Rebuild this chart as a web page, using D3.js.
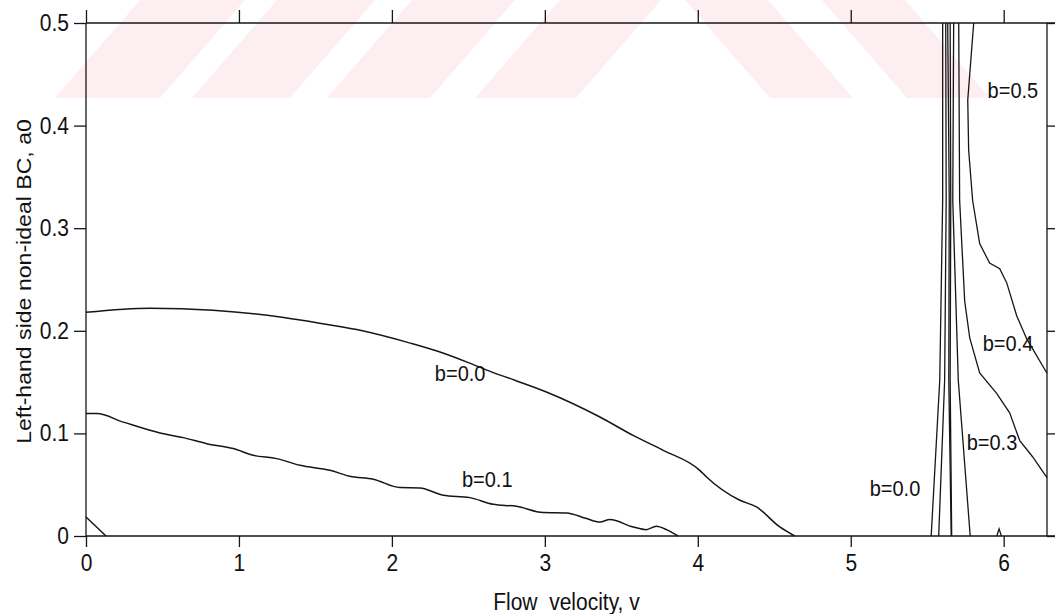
<!DOCTYPE html>
<html>
<head>
<meta charset="utf-8">
<script src="https://cdn.jsdelivr.net/npm/d3@7"></script>
<style>
  body { margin: 0; background: #fff; }
  svg text { font-family: "Liberation Sans", Arial, sans-serif; fill: #111; }
  .stretch { transform-box: fill-box; transform-origin: center; transform: scaleY(1.1); }
</style>
</head>
<body>
<div id="chart"></div>
<script>
// curves, as [v, a0] pairs
var curveB00Left = [[0, 0.218], [0.42, 0.222], [0.83, 0.220], [1.27, 0.2135], [1.48, 0.2086], [1.77, 0.2012],
  [2.12, 0.188], [2.3, 0.180], [2.5, 0.169], [2.65, 0.160], [2.804, 0.1518], [3.01, 0.1404], [3.36, 0.116],
  [3.577, 0.098], [3.774, 0.0835], [4.013, 0.064], [4.057, 0.0575], [4.275, 0.0348], [4.384, 0.0283],
  [4.536, 0.0088], [4.634, 0]];
var curveB01 = [[0, 0.1193], [0.07, 0.1193], [0.244, 0.111], [0.484, 0.1004], [0.636, 0.0959], [0.789, 0.090],
  [0.963, 0.0852], [1.093, 0.0787], [1.246, 0.0754], [1.399, 0.0689], [1.595, 0.064], [1.725, 0.0582],
  [1.878, 0.0553], [2.052, 0.0472], [2.183, 0.0468], [2.335, 0.0397], [2.51, 0.0374], [2.662, 0.0309],
  [2.815, 0.0289], [2.989, 0.0228], [3.142, 0.0224], [3.272, 0.017], [3.36, 0.0136], [3.425, 0.016],
  [3.577, 0.0088], [3.664, 0.0062], [3.729, 0.0095], [3.795, 0.0062], [3.871, 0]];
var curveCorner = [[0, 0.0185], [0.131, 0]];
var lineA = [[5.601, 0.5], [5.601, 0.327], [5.582, 0.152], [5.526, 0]];
var lineB = [[5.621, 0.5], [5.624, 0.327], [5.614, 0.152], [5.575, 0]];
var lineC = [[5.634, 0.5], [5.644, 0.327], [5.641, 0.152], [5.657, 0]];
var lineD = [[5.650, 0.5], [5.654, 0.327], [5.650, 0.152], [5.660, 0]];
var lineE = [[5.673, 0.5], [5.667, 0.327], [5.703, 0.152], [5.781, 0]];
var curveB03 = [[5.706, 0.5], [5.712, 0.327], [5.745, 0.229], [5.778, 0.193], [5.843, 0.159], [5.954, 0.139],
  [6.039, 0.12], [6.105, 0.093], [6.19, 0.077], [6.283, 0.057]];
var curveB04 = [[5.804, 0.5], [5.765, 0.425], [5.771, 0.376], [5.797, 0.327], [5.843, 0.285], [5.908, 0.266],
  [5.974, 0.2605], [6.02, 0.2467], [6.085, 0.2147], [6.15, 0.1923], [6.283, 0.1586]];
var curveTent = [[5.955, 0], [5.97, 0.007], [5.985, 0]];

var xTicks = [0, 1, 2, 3, 4, 5, 6];
var yTicks = [0, 0.1, 0.2, 0.3, 0.4, 0.5];
var labelText = ["b=0.0", "b=0.1", "b=0.0", "b=0.3", "b=0.4", "b=0.5"];
var labelV = [2.281, 2.458, 5.124, 5.758, 5.863, 5.895];
var labelA = [0.152, 0.0485, 0.0397, 0.0845, 0.181, 0.4277];

var width = 1055, height = 614;
var svg = d3.select("#chart").append("svg")
  .attr("width", width)
  .attr("height", height);

// faint watermark of the scan
var wm = svg.append("g").attr("fill", "rgb(253,238,241)");
var wmH = 98, wmShift = 85;
[[55, 160], [192, 290], [327, 430], [475, 576]].forEach(function(s) {
  wm.append("polygon").attr("points",
    [[s[0], wmH], [s[1], wmH], [s[1] + wmShift, 0], [s[0] + wmShift, 0]].join(" "));
});
[[770, 853], [907, 990]].forEach(function(s) {
  wm.append("polygon").attr("points",
    [[s[0], wmH], [s[1], wmH], [s[1] - wmShift, 0], [s[0] - wmShift, 0]].join(" "));
});

var x = d3.scaleLinear().domain([0, 2 * Math.PI]).range([86, 1047]);
var y = d3.scaleLinear().domain([0, 0.5]).range([536, 23]);

var ink = "#161616";

// axes
var gB = svg.append("g").attr("transform", "translate(0," + y(0) + ")")
  .call(d3.axisBottom(x).tickValues(xTicks).tickSize(11).tickPadding(8).tickFormat(d3.format("d")));
var gT = svg.append("g").attr("transform", "translate(0," + y(0.5) + ")")
  .call(d3.axisTop(x).tickValues(xTicks).tickSize(13).tickFormat(""));
var gL = svg.append("g").attr("transform", "translate(" + x(0) + ",0)")
  .call(d3.axisLeft(y).tickValues(yTicks).tickSize(12).tickPadding(5)
    .tickFormat(function(d) { return d === 0 ? "0" : d3.format(".1f")(d); }));
var gR = svg.append("g").attr("transform", "translate(" + x(2 * Math.PI) + ",0)")
  .call(d3.axisRight(y).tickValues(yTicks).tickSize(9).tickFormat(""));
[gB, gT, gL, gR].forEach(function(g) {
  g.select(".domain").remove();
  g.selectAll("line").attr("stroke", ink).attr("stroke-width", 1.3);
  g.selectAll("text").attr("font-size", 21).attr("class", "stretch")
    .attr("font-family", "Liberation Sans, Arial, sans-serif").attr("fill", ink);
});

// frame
var frame = svg.append("g").attr("stroke", ink).attr("stroke-width", 1.3);
frame.append("line").attr("x1", x(0)).attr("x2", width).attr("y1", y(0)).attr("y2", y(0));
frame.append("line").attr("x1", x(0)).attr("x2", width).attr("y1", y(0.5)).attr("y2", y(0.5));
frame.append("line").attr("x1", x(0)).attr("x2", x(0)).attr("y1", y(0.5)).attr("y2", y(0));
frame.append("line").attr("x1", x(2 * Math.PI)).attr("x2", x(2 * Math.PI)).attr("y1", y(0.5)).attr("y2", y(0));

// curves
var line = d3.line().x(function(d) { return x(d[0]); }).y(function(d) { return y(d[1]); }).curve(d3.curveMonotoneX);
var lineStraight = d3.line().x(function(d) { return x(d[0]); }).y(function(d) { return y(d[1]); });
var curves = [curveB00Left, curveB01, curveCorner];
var verticals = [lineA, lineB, lineC, lineD, lineE, curveB03, curveB04, curveTent];
svg.append("g").selectAll("path").data(curves).enter().append("path")
  .attr("d", line)
  .attr("fill", "none").attr("stroke", ink).attr("stroke-width", 1.5);
svg.append("g").selectAll("path").data(verticals).enter().append("path")
  .attr("d", lineStraight)
  .attr("fill", "none").attr("stroke", ink).attr("stroke-width", 1.3);

// curve labels
svg.append("g").selectAll("text").data(labelText).enter().append("text")
  .attr("x", function(d, i) { return x(labelV[i]); })
  .attr("y", function(d, i) { return y(labelA[i]); })
  .attr("font-size", 20)
  .attr("class", "stretch")
  .text(function(d) { return d; });

// axis titles
svg.append("text")
  .attr("x", (x(0) + x(2 * Math.PI)) / 2)
  .attr("y", 609)
  .attr("text-anchor", "middle")
  .attr("font-size", 21)
  .attr("class", "stretch")
  .attr("xml:space", "preserve")
  .style("white-space", "pre")
  .text("Flow  velocity, v");
svg.append("g")
  .attr("transform", "translate(31," + (y(0.25) + 2) + ") rotate(-90)")
  .append("text")
  .attr("text-anchor", "middle")
  .attr("font-size", 21)
  .style("transform-box", "fill-box")
  .style("transform-origin", "center")
  .style("transform", "scaleX(1.1)")
  .text("Left-hand side non-ideal BC, a0");
</script>
</body>
</html>
